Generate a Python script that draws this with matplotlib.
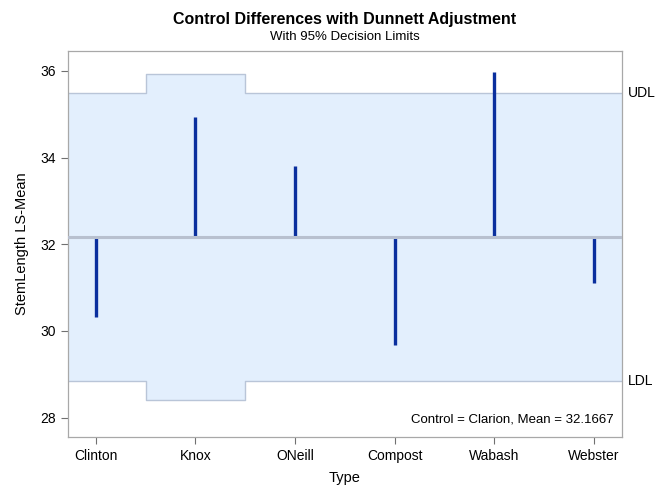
import numpy as np
import matplotlib.pyplot as plt

# valores
categories = ['Clinton', 'Knox', 'ONeill', 'Compost', 'Wabash', 'Webster']
lsmeans = [30.31, 34.93, 33.81, 29.68, 35.97, 31.11]
udl = [35.49, 35.94, 35.49, 35.49, 35.49, 35.49]
ldl = [28.85, 28.40, 28.85, 28.85, 28.85, 28.85]
control_name = 'Clarion'
control_mean = 32.1667

plt.rcParams['font.family'] = ['Liberation Sans', 'DejaVu Sans']

fig = plt.figure(figsize=(6.66, 5.0), dpi=100)
ax = fig.add_axes([0.102, 0.126, 0.832, 0.772])

x = np.arange(len(categories))

# limites de decisao em degraus (cada categoria ocupa +-0.5)
xs = np.repeat(np.append(x - 0.5, x[-1] + 0.5), 2)[1:-1]
xs[0] = -1.0
xs[-1] = len(categories)
up = np.repeat(udl, 2)
lo = np.repeat(ldl, 2)
ax.fill_between(xs, lo, up, color='#E3EFFD', lw=0, zorder=1)
ax.plot(xs, up, color='#B9C5D8', lw=1.0, zorder=2)
ax.plot(xs, lo, color='#B9C5D8', lw=1.0, zorder=2)

# diferencas em relacao ao controle
ax.vlines(x, control_mean, lsmeans, color='#0A2F9E', lw=2.4, zorder=3)
ax.axhline(control_mean, color='#B8C0CF', lw=2.2, zorder=4)

ax.set_xlim(-0.28, len(categories) - 1 + 0.28)
ax.set_ylim(27.55, 36.46)
ax.set_xticks(x)
ax.set_xticklabels(categories)
ax.set_yticks([28, 30, 32, 34, 36])

for s in ax.spines.values():
    s.set_color('#A8A8A8')
    s.set_linewidth(0.9)
ax.tick_params(colors='#707070', labelcolor='black', labelsize=10,
               length=5, width=0.8)

ax.set_xlabel('Type', fontsize=10.5, labelpad=6)
ax.set_ylabel('StemLength LS-Mean', fontsize=10.5, labelpad=8)

ax.text(len(categories) - 1 + 0.28 + 0.06, udl[-1], 'UDL', fontsize=10,
        va='center', ha='left', transform=ax.transData, clip_on=False)
ax.text(len(categories) - 1 + 0.28 + 0.06, ldl[-1], 'LDL', fontsize=10,
        va='center', ha='left', transform=ax.transData, clip_on=False)

ax.text(0.985, 0.03, 'Control = %s, Mean = %.4f' % (control_name, control_mean),
        transform=ax.transAxes, ha='right', va='bottom', fontsize=9.5)

fig.text(0.518, 0.961, 'Control Differences with Dunnett Adjustment',
         ha='center', va='center', fontsize=11.5, fontweight='bold')
fig.text(0.518, 0.926, 'With 95% Decision Limits',
         ha='center', va='center', fontsize=9.5)

fig.savefig('out.png', dpi=100)
